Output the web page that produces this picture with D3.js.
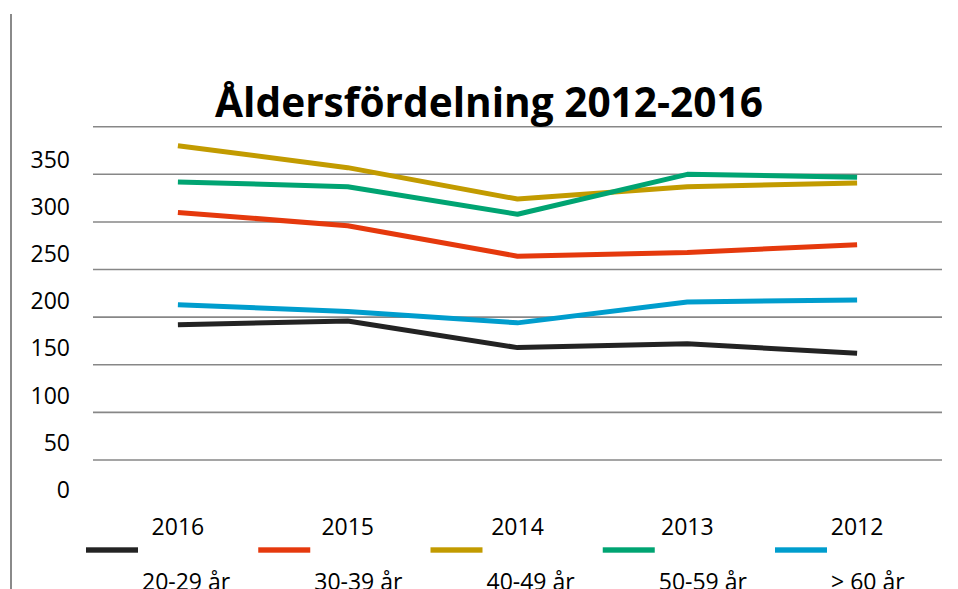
<!DOCTYPE html>
<html><head><meta charset="utf-8">
<script src="https://cdn.jsdelivr.net/npm/d3@7"></script>
<style>
html,body{margin:0;padding:0;background:#fff;overflow:hidden;}
text{font-family:"Open Sans","Noto Sans",sans-serif;fill:#000;}
</style></head>
<body>
<svg id="chart" width="958" height="589"></svg>
<script>
// ---- data ----
const years = ["2016", "2015", "2014", "2013", "2012"];
const seriesNames = ["20-29 år", "30-39 år", "40-49 år", "50-59 år", "> 60 år"];
const s20_29 = [192, 196, 168, 172, 162];
const s30_39 = [310, 296, 264, 268, 276];
const s40_49 = [380, 357, 324, 337, 341];
const s50_59 = [342, 337, 308, 350, 347];
const s60 = [213, 206, 194, 216, 218];
const tickValues = [0, 50, 100, 150, 200, 250, 300, 350];
const gridValues = [50, 100, 150, 200, 250, 300, 350, 400];
const colors = ["#232323", "#E5390D", "#C29B00", "#00A472", "#009DCD"];
const title = "Åldersfördelning 2012-2016";

const seriesValues = [s20_29, s30_39, s40_49, s50_59, s60];
const series = seriesNames.map((n, i) => ({name: n, values: seriesValues[i], color: colors[i]}));

const svg = d3.select("#chart");
const plotLeft = 93, plotRight = 942;

const x = d3.scaleBand().domain(years).range([plotLeft, plotRight]);
const xc = d => x(d) + x.bandwidth() / 2;
const y = d3.scaleLinear().domain([0, 400]).range([507.6, 126.7]);
// tick labels sit above their gridlines (as in the source)
const yLab = d3.scaleLinear().domain([0, 350]).range([498.2, 167.5]);

// left frame line
svg.append("line").attr("x1", 11).attr("x2", 11).attr("y1", 14).attr("y2", 589)
  .attr("stroke", "#8a8a8a").attr("stroke-width", 2);

// gridlines
svg.append("g").selectAll("line").data(gridValues).join("line")
  .attr("x1", plotLeft).attr("x2", plotRight)
  .attr("y1", d => y(d)).attr("y2", d => y(d))
  .attr("stroke", "#878787").attr("stroke-width", 1.6);

// y tick labels
svg.append("g").selectAll("text").data(tickValues).join("text")
  .attr("x", 70).attr("y", d => yLab(d))
  .attr("text-anchor", "end").attr("font-size", 23)
  .text(d => d);

// x labels
svg.append("g").selectAll("text").data(years).join("text")
  .attr("x", d => xc(d)).attr("y", 535)
  .attr("text-anchor", "middle").attr("font-size", 23)
  .text(d => d);

// lines
const line = d3.line().x((d, i) => xc(years[i])).y(d => y(d));
svg.append("g").selectAll("path").data(series).join("path")
  .attr("d", d => line(d.values))
  .attr("fill", "none").attr("stroke", d => d.color)
  .attr("stroke-width", 5).attr("stroke-linejoin", "round");

// title
const t = svg.append("text").attr("x", 489).attr("y", 116.5)
  .attr("text-anchor", "middle").attr("font-weight", "bold").attr("font-size", 38)
  .text(title);
const w = t.node().getComputedTextLength();
t.attr("font-size", 38 * 548 / w);

// legend
const legX = d3.scalePoint().domain(seriesNames).range([86, 775]);
const lg = svg.append("g").selectAll("g").data(series).join("g");
lg.append("rect").attr("x", d => legX(d.name)).attr("y", 547.3)
  .attr("width", 52).attr("height", 5.4).attr("fill", d => d.color);
lg.append("text").attr("x", d => legX(d.name) + 56).attr("y", 590)
  .attr("font-size", 23).text(d => d.name);
</script>
</body></html>
